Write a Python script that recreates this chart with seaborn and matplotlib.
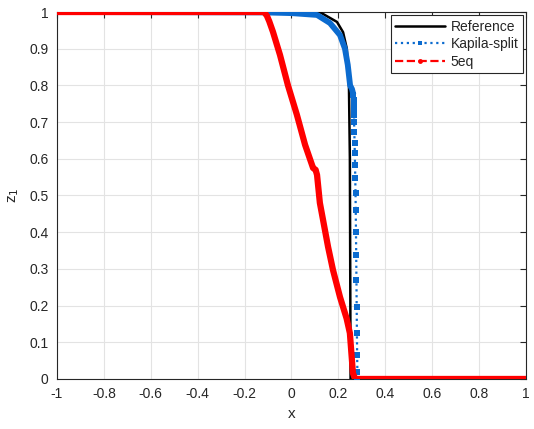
import numpy as np
import pandas as pd
import matplotlib
matplotlib.use("Agg")
import matplotlib.pyplot as plt
import seaborn as sns
from matplotlib.lines import Line2D

# ---------- data ----------
ref_x = [-1.0, 0.12, 0.194, 0.22, 0.236, 0.241, 0.245, 0.249, 0.251, 0.252, 1.0]
ref_y = [1.0, 1.0, 0.973, 0.945, 0.90, 0.836, 0.80, 0.60, 0.20, 0.0, 0.0]

# Kapila-split: curved (dense) part and the steep front (sparse markers)
kap_x = [-1.0, -0.12, 0.0, 0.109, 0.164, 0.207, 0.228, 0.24, 0.25, 0.258, 0.264]
kap_y = [1.0, 0.999, 0.997, 0.992, 0.97, 0.937, 0.90, 0.856, 0.80, 0.79, 0.775]
kap_front_y = [0.774, 0.760, 0.747, 0.733, 0.719, 0.700, 0.673, 0.643, 0.616,
               0.583, 0.548, 0.507, 0.460, 0.401, 0.338, 0.270, 0.196, 0.125,
               0.065, 0.019, 0.0]
kap_front_x = [0.264, 0.265, 0.266, 0.266, 0.267, 0.267, 0.268, 0.269, 0.270,
               0.271, 0.272, 0.273, 0.274, 0.275, 0.276, 0.277, 0.278, 0.279,
               0.280, 0.281, 0.281]
kap_tail_x = [0.281, 1.0]
kap_tail_y = [0.0, 0.0]

eq5_x = [-1.0, -0.117, -0.105, -0.095, -0.079, -0.049, -0.015, 0.023, 0.058,
         0.092, 0.103, 0.109, 0.121, 0.156, 0.177, 0.207, 0.235, 0.249, 0.262,
         0.270, 0.275, 1.0]
eq5_y = [1.0, 1.0, 0.99, 0.975, 0.946, 0.883, 0.80, 0.72, 0.638,
         0.575, 0.57, 0.556, 0.48, 0.36, 0.297, 0.223, 0.165, 0.125, 0.016,
         0.002, 0.0, 0.0]

sns.set_style("white")
plt.rcParams['font.family'] = ['Liberation Sans', 'DejaVu Sans']
plt.rcParams['font.size'] = 10

blue = '#0b6bcf'
red = '#ff0000'

fig = plt.figure(figsize=(5.34, 4.29), dpi=100)
ax = fig.add_axes([0.1067, 0.1166, 0.985 - 0.1067, 0.972 - 0.1166])

sns.lineplot(x=ref_x, y=ref_y, sort=False, estimator=None, color='black', lw=1.8, ax=ax, zorder=3)
sns.lineplot(x=kap_x, y=kap_y, sort=False, estimator=None, color=blue, lw=4.2, ax=ax, zorder=4,
             solid_capstyle='butt')
sns.lineplot(x=kap_front_x, y=kap_front_y, sort=False, estimator=None, color=blue, lw=1.6,
             linestyle=':', marker='s', markersize=3.8, markeredgewidth=0, ax=ax, zorder=4)
sns.lineplot(x=kap_tail_x, y=kap_tail_y, sort=False, estimator=None, color=blue, lw=4.2, ax=ax, zorder=4)
sns.lineplot(x=eq5_x, y=eq5_y, sort=False, estimator=None, color=red, lw=4.5, ax=ax, zorder=5,
             solid_joinstyle='round', solid_capstyle='round')

ax.set_xlim(-1, 1)
ax.set_ylim(0, 1)
xt = np.round(np.arange(-1, 1.01, 0.2), 1) + 0.0
yt = np.round(np.arange(0, 1.01, 0.1), 1) + 0.0
ax.set_xticks(xt)
ax.set_yticks(yt)
ax.set_xticklabels([('%g' % (0.0 if abs(v) < 1e-9 else v)) for v in xt])
ax.set_yticklabels([('%g' % (0.0 if abs(v) < 1e-9 else v)) for v in yt])
ax.tick_params(direction='in', length=4, width=0.8, top=True, right=True,
               colors='#262626', labelsize=10, pad=6)
ax.grid(True, color='#e3e3e3', lw=0.8)
ax.set_axisbelow(True)
for s in ax.spines.values():
    s.set_color('#262626')
    s.set_linewidth(0.8)
ax.set_xlabel('x', fontsize=11, color='#262626', labelpad=4)
ax.set_ylabel(r'z$_1$', fontsize=11, color='#262626', labelpad=6)

handles = [Line2D([], [], color='black', lw=1.8),
           Line2D([], [], color=blue, lw=1.6, ls=':', marker='s', markersize=3.5, markeredgewidth=0),
           Line2D([], [], color=red, lw=1.6, ls='--', marker='o', markersize=3.5, markeredgewidth=0)]
leg = ax.legend(handles, ['Reference', 'Kapila-split', '5eq'], loc='upper right',
                fancybox=False, edgecolor='#262626', framealpha=1, fontsize=10,
                handlelength=3.6, borderaxespad=0.25, borderpad=0.3, labelspacing=0.25,
                handletextpad=0.4)
leg.get_frame().set_linewidth(0.8)

fig.savefig('out.png', dpi=100)
